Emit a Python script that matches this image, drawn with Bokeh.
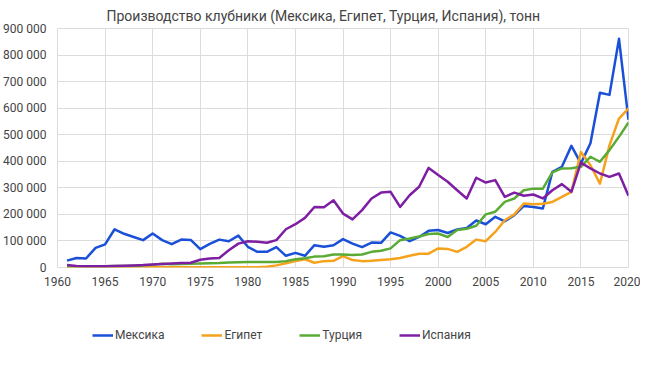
from bokeh.plotting import figure
from bokeh.layouts import column
from bokeh.models import Legend, LegendItem, FixedTicker, Range1d, ColumnDataSource
from bokeh.embed import file_html
from bokeh.resources import INLINE

years = list(range(1961, 2021))

mexico = [26000, 36000, 34000, 74000, 87000, 144000, 127000, 115000, 103000, 128000,
          103000, 88000, 105000, 104000, 69000, 89000, 105000, 99000, 120000, 78000,
          59000, 59000, 77000, 44000, 55000, 44000, 84000, 78000, 84000, 107000,
          90000, 77000, 94000, 93000, 132000, 119000, 99000, 115000, 138000, 141000,
          130000, 143000, 149000, 177000, 163000, 191000, 174000, 197000, 232000, 228000,
          222000, 360000, 379000, 458000, 392000, 468000, 658000, 650000, 861000, 556000]

egypt = [1000, 1000, 1000, 1000, 1000, 1000, 1000, 1000, 1000, 1000,
         1000, 1000, 1000, 1000, 1000, 1000, 1000, 1000, 1000, 1000,
         1000, 3000, 8000, 16000, 24000, 31000, 18000, 24000, 25000, 43000,
         28000, 24000, 25000, 28000, 31000, 36000, 44000, 52000, 52000, 72000,
         70000, 59000, 78000, 105000, 99000, 134000, 178000, 200000, 241000, 238000,
         240000, 247000, 266000, 285000, 435000, 385000, 316000, 460000, 561000, 599000]

turkey = [5000, 5000, 5000, 5000, 5000, 6000, 6000, 7000, 8000, 10000,
          14000, 12000, 13000, 14000, 15000, 16000, 17000, 19000, 20000, 21000,
          21000, 21000, 21000, 24000, 31000, 35000, 41000, 42000, 49000, 49000,
          47000, 49000, 59000, 63000, 72000, 103000, 109000, 117000, 126000, 128000,
          115000, 141000, 146000, 157000, 200000, 210000, 247000, 260000, 291000, 297000,
          297000, 358000, 373000, 374000, 379000, 417000, 398000, 442000, 492000, 546000]

spain = [9000, 6000, 5000, 5000, 5000, 6000, 7000, 8000, 9000, 11000,
         13000, 15000, 17000, 18000, 29000, 34000, 36000, 65000, 90000, 99000,
         97000, 93000, 103000, 144000, 163000, 187000, 228000, 227000, 253000, 203000,
         181000, 216000, 260000, 282000, 285000, 228000, 272000, 304000, 375000, 348000,
         323000, 291000, 260000, 338000, 320000, 329000, 266000, 282000, 270000, 275000,
         260000, 291000, 314000, 285000, 395000, 373000, 354000, 341000, 354000, 270000]

series_names = ["Мексика", "Египет", "Турция", "Испания"]
series_values = [mexico, egypt, turkey, spain]
colors = ["#1a4fd8", "#f5a21c", "#5aab36", "#7e1fa3"]

x_ticks = list(range(1960, 2021, 5))
y_ticks = list(range(0, 900001, 100000))
y_labels = {v: ("0" if v == 0 else f"{v:,}".replace(",", " ")) for v in y_ticks}

FONT = "Roboto"
TXT = "#444444"

p = figure(frame_width=571, frame_height=239, output_backend="svg", toolbar_location=None,
           x_range=Range1d(1960, 2020), y_range=Range1d(0, 900000),
           min_border_left=51, min_border_right=12, min_border_top=24, min_border_bottom=30)

p.title.text = "Производство клубники (Мексика, Египет, Турция, Испания), тонн"
p.title.align = "left"
p.title.offset = 49
p.title.text_font = FONT
p.title.text_font_size = "14px"
p.title.text_font_style = "normal"
p.title.text_color = TXT

for vals, c in zip(series_values, colors):
    src = ColumnDataSource(dict(x=years, y=vals))
    p.line("x", "y", source=src, line_color=c, line_width=2.5, line_join="round")

p.xaxis.ticker = FixedTicker(ticks=x_ticks)
p.yaxis.ticker = FixedTicker(ticks=y_ticks)
p.yaxis.major_label_overrides = y_labels
for ax in (p.xaxis[0], p.yaxis[0]):
    ax.axis_line_color = None
    ax.major_tick_line_color = None
    ax.minor_tick_line_color = None
    ax.major_label_text_font = FONT
    ax.major_label_text_font_size = "12px"
    ax.major_label_text_color = TXT
p.xaxis.major_label_standoff = 3
p.yaxis.major_label_standoff = 5

p.xgrid.grid_line_color = "#dcdcdc"
p.ygrid.grid_line_color = "#dcdcdc"
p.outline_line_color = "#dcdcdc"
p.background_fill_color = "white"
p.border_fill_color = "white"

# legend strip below the chart (sample lines sit outside the visible range)
lg = figure(frame_width=634, frame_height=46, output_backend="svg", toolbar_location=None,
            x_range=Range1d(0, 1), y_range=Range1d(0, 1),
            min_border_left=0, min_border_right=0, min_border_top=0, min_border_bottom=0)
lg.axis.visible = False
lg.grid.visible = False
lg.outline_line_color = None
lg.border_fill_color = "white"

items = []
for name, c in zip(series_names, colors):
    r = lg.line(x=[-5, -4], y=[-5, -5], line_color=c, line_width=2.5)
    items.append(LegendItem(label=name, renderers=[r]))

legend = Legend(items=items, orientation="horizontal", location=(92, 1),
                glyph_width=21, glyph_height=10, label_standoff=2,
                spacing=37, padding=0, margin=0,
                label_text_font=FONT, label_text_font_size="12px", label_text_color=TXT,
                border_line_color=None, background_fill_alpha=0)
lg.add_layout(legend)

layout = column(p, lg, spacing=0)
open("out.html", "w").write(file_html(layout, INLINE))
